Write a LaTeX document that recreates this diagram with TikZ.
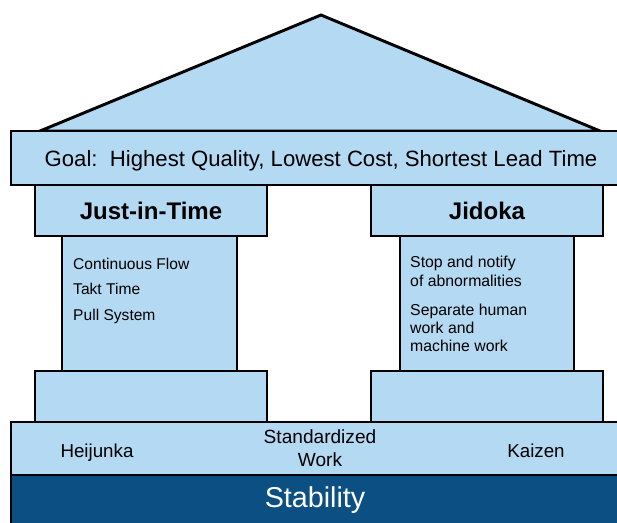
\documentclass[tikz,border=0pt]{standalone}
\usepackage{fontspec}
\setmainfont{Liberation Sans}
\usepackage{tikz}
\usetikzlibrary{positioning}
\usepackage{xcolor}
\definecolor{houseblue}{RGB}{180,217,243}
\definecolor{stabblue}{RGB}{12,79,130}

\begin{document}
\begin{tikzpicture}[x=0.03cm,y=-0.03cm]
\useasboundingbox (0,0) rectangle (617,522);
\draw[line width=2.5pt,fill=houseblue] (40,131) -- (321,15) -- (600,131) -- cycle;

\begin{scope}[every node/.style={rectangle,draw,line width=2.5pt,fill=houseblue,inner sep=0pt}]
	\node[minimum width=608*0.03cm,minimum height=54*0.03cm] (goal) at (315,158) {};

	\node[minimum width=232*0.03cm,minimum height=51*0.03cm,font=\fontsize{20.5}{24}\selectfont\bfseries] (jit) at (151,210.5) {Just-in-Time};
	\node[minimum width=232*0.03cm,minimum height=51*0.03cm,font=\fontsize{20.5}{24}\selectfont\bfseries] (jidoka) at (487,210.5) {Jidoka};

	\node[minimum width=175*0.03cm,minimum height=135*0.03cm] (jitcol) at (149.5,303.5) {};
	\node[minimum width=174*0.03cm,minimum height=135*0.03cm] (jidokacol) at (487,303.5) {};

	\node[minimum width=232*0.03cm,minimum height=51*0.03cm] (jitbase) at (151,396.5) {};
	\node[minimum width=232*0.03cm,minimum height=51*0.03cm] (jidokabase) at (487,396.5) {};

	\node[minimum width=608*0.03cm,minimum height=53*0.03cm] (found) at (315,448.5) {};
	\node[minimum width=608*0.03cm,minimum height=50*0.03cm,fill=stabblue,text=white,font=\fontsize{24.5}{28}\selectfont] (stab) at (315,500) {Stability};
\end{scope}

\begin{scope}[every node/.style={inner sep=0pt}]
	\node[anchor=base,font=\fontsize{18.9}{22}\selectfont] (goaltext) at (321,166) {Goal:\ \ Highest Quality, Lowest Cost, Shortest Lead Time};

	\node[anchor=north west,align=left,font=\fontsize{13.3}{21.7}\selectfont] (jitlist) at (73,258) {Continuous Flow\\Takt Time\\Pull System};
	\node[anchor=north west,align=left,font=\fontsize{13.5}{15.7}\selectfont] (jidokalist) at (410,256) {Stop and notify\\of abnormalities\\[9pt]Separate human\\work and\\machine work};

	\node[anchor=base,font=\fontsize{16}{19}\selectfont] (heijunka) at (97,457) {Heijunka};
	\node[anchor=north,align=center,font=\fontsize{16.3}{19.8}\selectfont] (stdwork) at (320,429) {Standardized\\Work};
	\node[anchor=base,font=\fontsize{16}{19}\selectfont] (kaizen) at (536,457) {Kaizen};
\end{scope}
\end{tikzpicture}
\end{document}
